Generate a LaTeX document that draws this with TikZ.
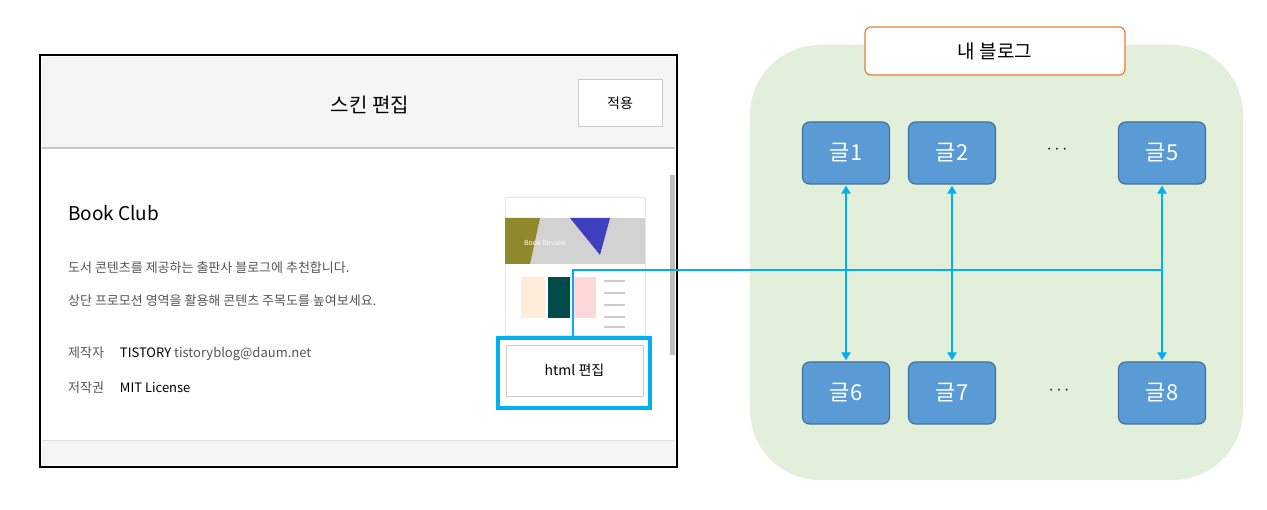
\documentclass[tikz,border=0pt]{standalone}
\usepackage{fontspec}
\setmainfont{Noto Sans CJK KR}
\usetikzlibrary{arrows.meta}
\definecolor{cyanl}{HTML}{00B0F0}
\definecolor{boxb}{HTML}{5B9BD5}
\definecolor{boxd}{HTML}{41719C}
\definecolor{greenbg}{HTML}{E2EFDA}
\definecolor{orng}{HTML}{ED7D31}
\definecolor{txtg}{HTML}{555555}
\tikzset{
 post/.style={draw=boxd,line width=1.2pt,fill=boxb,rounded corners=7pt,minimum width=87pt,minimum height=62pt,text=white,font=\fontsize{22}{24}\selectfont,inner sep=0pt},
 link/.style={cyanl,line width=2.5pt},
 dlink/.style={link,{Triangle[length=8pt,width=9pt]}-{Triangle[length=8pt,width=9pt]},shorten >=1pt,shorten <=1pt},
 small/.style={font=\fontsize{13}{15}\selectfont,text=txtg,anchor=west,inner sep=0pt}
}
\begin{document}
\begin{tikzpicture}[x=1pt,y=-1pt]
\useasboundingbox (0,0) rectangle (1267,510);
% left screenshot
\fill[white] (40,55) rectangle (677,467);
\fill[gray!8] (42,57) rectangle (675,148);
\draw[color=blue!15!gray!40,line width=2pt] (42,148) -- (675,148);
\fill[gray!8] (42,440) rectangle (675,465);
\draw[gray!25] (42,440) -- (675,440);
\fill[gray!50] (670,175) rectangle (675,355);
\node[font=\fontsize{20}{22}\selectfont] (title) at (370,105) {스킨 편집};
\node[draw=gray!40,fill=white,minimum width=84pt,minimum height=47pt,font=\fontsize{14}{16}\selectfont] (apply) at (620,103) {적용};
\node[font=\fontsize{19}{21}\selectfont,anchor=west,inner sep=0pt] (bc) at (68,213) {Book Club};
\node[small] (d1) at (68,268) {도서 콘텐츠를 제공하는 출판사 블로그에 추천합니다.};
\node[small] (d2) at (68,301) {상단 프로모션 영역을 활용해 콘텐츠 주목도를 높여보세요.};
\node[small] (m1) at (68,354) {제작자 \quad \textcolor{black}{TISTORY} tistoryblog@daum.net};
\node[small] (m2) at (68,388) {저작권 \quad \textcolor{black}{MIT License}};
% thumbnail
\fill[white] (505,197) rectangle (645,335);
\draw[gray!20] (505,197) rectangle (645,335);
\fill[gray!35] (505,218) rectangle (645,264);
\fill[olive!70!gray] (505,218) -- (540,218) -- (530,264) -- (505,264) -- cycle;
\fill[blue!50!gray] (570,218) -- (610,218) -- (600,255) -- cycle;
\node[font=\fontsize{7}{8}\selectfont,text=white] (br) at (545,243) {Book Review};
\fill[orange!15] (521,277) rectangle (545,318);
\fill[teal!60!black] (548,277) rectangle (570,318);
\fill[red!15] (574,277) rectangle (596,318);
\foreach \yy in {280,292,304,316,326}{\fill[gray!40] (604,\yy) rectangle (625,\yy+2);}
% html button
\node[draw=gray!40,fill=white,minimum width=137pt,minimum height=51pt,font=\fontsize{14}{16}\selectfont] (html) at (574.5,370.5) {html 편집};
\node[draw=cyanl,line width=4pt,minimum width=152pt,minimum height=70pt] (hl) at (574,373) {};
\draw[black,line width=2pt] (40,55) rectangle (677,467);
% right
\fill[greenbg,rounded corners=70pt] (750,45) rectangle (1243,480);
\node[draw=orng,line width=1.2pt,fill=white,rounded corners=6pt,minimum width=260pt,minimum height=48pt,font=\fontsize{19}{21}\selectfont] (blog) at (995,51) {내 블로그};
\node[post] (p1) at (846,153) {글1};
\node[post] (p2) at (952,153) {글2};
\node[font=\fontsize{18}{20}\selectfont] (dt1) at (1057,150) {$\cdots$};
\node[post] (p5) at (1162,153) {글5};
\node[post] (p6) at (846,393) {글6};
\node[post] (p7) at (952,393) {글7};
\node[font=\fontsize{18}{20}\selectfont] (dt2) at (1059,391) {$\cdots$};
\node[post] (p8) at (1162,393) {글8};
\draw[dlink] (p1) -- (p6);
\draw[dlink] (p2) -- (p7);
\draw[dlink] (p5) -- (p8);
\coordinate (j) at (1162,270);
\draw[link] (hl.north -| 573,0) -- (573,270) -- (j);
\end{tikzpicture}
\end{document}
